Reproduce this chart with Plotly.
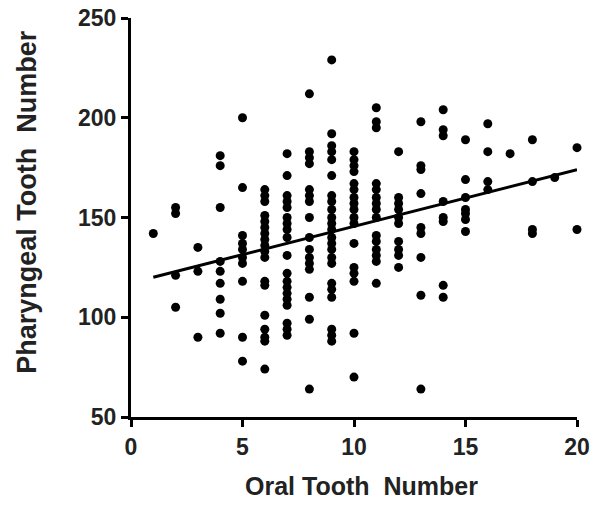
import numpy as np
import plotly.graph_objects as go

# Oral tooth number (x) -> list of pharyngeal tooth numbers (y)
oral_1 = [142]
oral_2 = [155, 152, 121, 105]
oral_3 = [135, 123, 90]
oral_4 = [181, 176, 155, 128, 123, 117, 109, 102, 92]
oral_5 = [200, 165, 141, 137, 134, 130, 127, 118, 90, 78]
oral_6 = [164, 161, 158, 151, 148, 145, 142, 139, 136, 133, 130, 118, 116, 101, 94, 90, 88, 74]
oral_7 = [182, 171, 161, 158, 155, 150, 147, 144, 140, 131, 122, 118, 115, 112, 109, 106, 97, 94, 91]
oral_8 = [212, 183, 180, 177, 164, 161, 158, 150, 140, 134, 130, 127, 124, 110, 99, 64]
oral_9 = [229, 192, 186, 183, 179, 171, 161, 158, 154, 150, 147, 144, 140, 137, 134, 130, 127, 117, 114, 110, 94, 91, 88]
oral_10 = [183, 179, 176, 173, 167, 164, 160, 157, 154, 150, 147, 137, 125, 122, 118, 92, 70]
oral_11 = [205, 198, 195, 167, 164, 160, 157, 154, 150, 141, 138, 134, 131, 128, 117]
oral_12 = [183, 160, 157, 154, 150, 147, 138, 134, 131, 125]
oral_13 = [198, 176, 174, 162, 145, 142, 130, 111, 64]
oral_14 = [204, 194, 191, 158, 150, 148, 116, 110]
oral_15 = [189, 169, 160, 154, 152, 149, 143]
oral_16 = [197, 183, 168, 164]
oral_17 = [182]
oral_18 = [189, 168, 144, 142]
oral_19 = [170]
oral_20 = [185, 144]

groups = {1: oral_1, 2: oral_2, 3: oral_3, 4: oral_4, 5: oral_5, 6: oral_6,
          7: oral_7, 8: oral_8, 9: oral_9, 10: oral_10, 11: oral_11, 12: oral_12,
          13: oral_13, 14: oral_14, 15: oral_15, 16: oral_16, 17: oral_17,
          18: oral_18, 19: oral_19, 20: oral_20}

x_vals = []
y_vals = []
for k, vals in groups.items():
    x_vals += [k] * len(vals)
    y_vals += vals
x_vals = np.array(x_vals, dtype=float)
y_vals = np.array(y_vals, dtype=float)

slope, intercept = np.polyfit(x_vals, y_vals, 1)
fit_x = np.array([x_vals.min(), x_vals.max()])
fit_y = slope * fit_x + intercept

x_ticks = [0, 5, 10, 15, 20]
y_ticks = [50, 100, 150, 200, 250]
x_title = "Oral Tooth  Number"
y_title = "Pharyngeal Tooth  Number"

fig = go.Figure()
fig.add_trace(go.Scatter(x=x_vals, y=y_vals, mode="markers",
                         marker=dict(size=9, color="black"),
                         showlegend=False, hoverinfo="skip", cliponaxis=False))
fig.add_trace(go.Scatter(x=fit_x, y=fit_y, mode="lines",
                         line=dict(color="black", width=3),
                         showlegend=False, hoverinfo="skip"))

fam = "Liberation Sans"
txt = "#222222"
fig.update_layout(
    width=597, height=506,
    margin=dict(l=131, r=20, t=18, b=89, autoexpand=False),
    paper_bgcolor="white", plot_bgcolor="white",
    font=dict(family=fam, color=txt),
    annotations=[
        dict(text=f"<b>{x_title}</b>", xref="paper", yref="paper",
             x=0.516, y=-0.173, xanchor="center", yanchor="middle",
             showarrow=False, font=dict(size=25, family=fam, color=txt)),
        dict(text=f"<b>{y_title}</b>", xref="paper", yref="paper",
             x=-0.235, y=0.54, xanchor="center", yanchor="middle", textangle=-90,
             showarrow=False, font=dict(size=27, family=fam, color=txt)),
    ],
)
fig.update_xaxes(
    range=[0, 20], tickvals=x_ticks, ticktext=[f"<b>{v}</b>" for v in x_ticks],
    showgrid=False, zeroline=False, showline=True, linecolor="black", linewidth=3,
    ticks="outside", ticklen=7, tickwidth=3, tickcolor="black", automargin=False,
    ticklabeloverflow="allow",
    tickfont=dict(size=23, family=fam, color=txt),
)
fig.update_yaxes(
    range=[50, 250], tickvals=y_ticks, ticktext=[f"<b>{v}</b>" for v in y_ticks],
    showgrid=False, zeroline=False, showline=True, linecolor="black", linewidth=3,
    ticks="outside", ticklen=7, tickwidth=3, tickcolor="black", automargin=False,
    ticklabeloverflow="allow",
    tickfont=dict(size=23, family=fam, color=txt),
)

fig.write_html("out.html",
               config={"displayModeBar": False, "staticPlot": True},
               post_script="document.body.style.margin='0';document.body.style.overflow='hidden';")
